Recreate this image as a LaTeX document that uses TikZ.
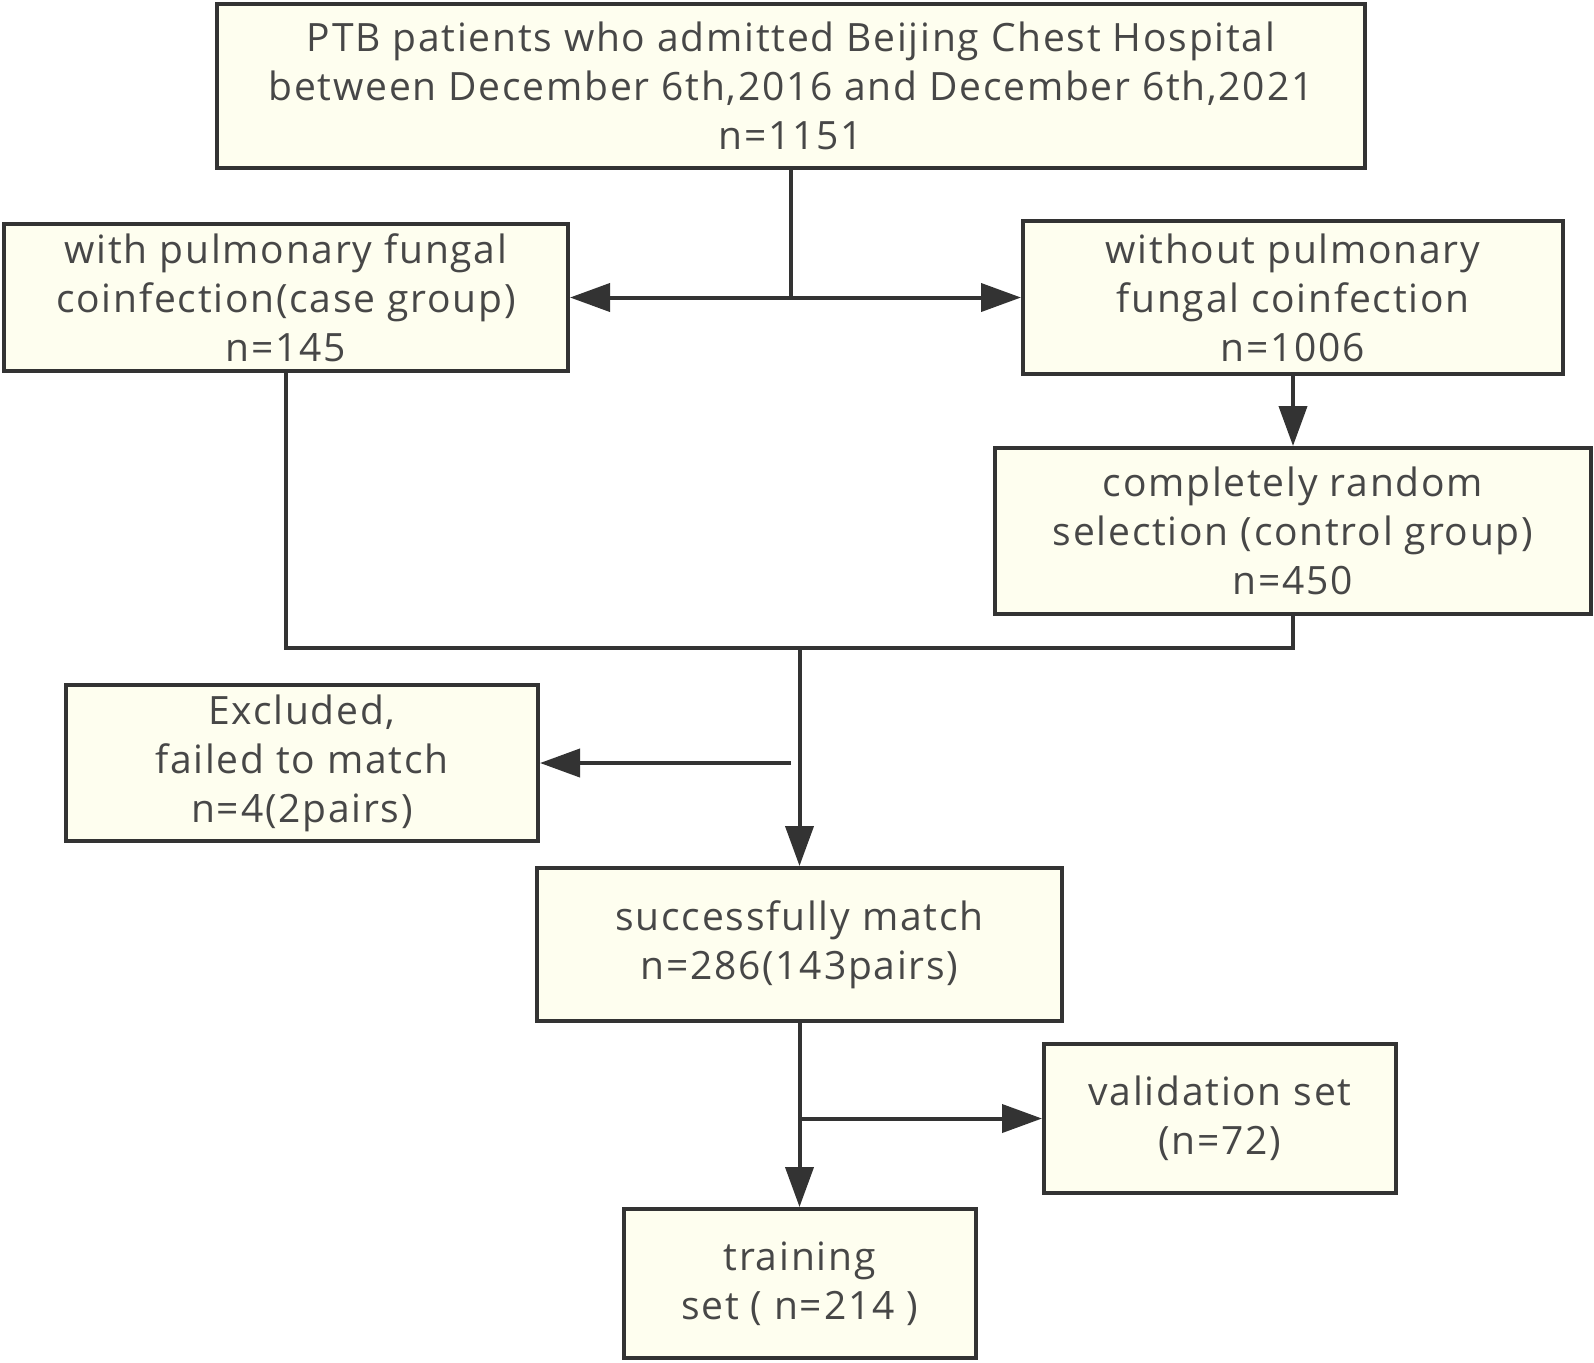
\documentclass[tikz,border=0pt]{standalone}
\usepackage{fontspec}
\setmainfont{Open Sans}[LetterSpace=4.5]
\usetikzlibrary{arrows.meta}
\definecolor{boxfill}{HTML}{FEFEEF}
\definecolor{ink}{HTML}{333333}

\begin{document}
\begin{tikzpicture}[x=0.5pt,y=-0.5pt,
        box/.style={draw=ink,fill=boxfill,line width=2pt,align=center,inner sep=0pt,
            text=ink!90,font=\fontsize{19.5}{24.5}\selectfont},
        link/.style={draw=ink,line width=2pt},
        arr/.style={link,-{Triangle[length=20pt,width=14pt]}}]
            \useasboundingbox (0,0) rectangle (1594,1362);

            \node (top) at (791,86) [box,minimum width=574pt,minimum height=82pt] {PTB patients who admitted Beijing Chest Hospital\\between December 6th,2016 and December 6th,2021\\n=1151};
            \node (case) at (286,297.5) [box,minimum width=282pt,minimum height=73.5pt] {with pulmonary fungal\\coinfection(case group)\\n=145};
            \node (without) at (1293,297.5) [box,minimum width=270pt,minimum height=76.5pt] {without pulmonary\\fungal coinfection\\n=1006};
            \node (control) at (1293,531) [box,minimum width=298pt,minimum height=83pt] {completely random\\selection (control group)\\n=450};
            \node (excluded) at (302,763) [box,minimum width=236pt,minimum height=78pt] {Excluded,\\failed to match\\n=4(2pairs)};
            \node (success) at (799.5,944.5) [box,minimum width=262.5pt,minimum height=76.5pt] {successfully match\\n=286(143pairs)};
            \node (validation) at (1220,1118.5) [box,minimum width=176pt,minimum height=74.5pt] {validation set\\(n=72)};
            \node (training) at (799.5,1283.5) [box,minimum width=176pt,minimum height=74.5pt] {training\\set ( n=214 )};

            \coordinate (split) at (top.south |- case.east);
            \coordinate (merge) at (success.north |- 0,648);
            \coordinate (drop) at (791,763);
            \coordinate (fork) at (success.south |- validation.west);

            \draw[link] (top.south) -- (split);
            \draw[arr] (split) -- (case.east);
            \draw[arr] (split) -- (without.west);
            \draw[arr] (without.south) -- (control.north);
            \draw[link] (case.south) |- (control.south |- merge) -- (control.south);
            \draw[arr] (merge) -- (success.north);
            \draw[arr] (drop) -- (excluded.east);
            \draw[arr] (success.south) -- (training.north);
            \draw[arr] (fork) -- (validation.west);

        \end{tikzpicture}
\end{document}
